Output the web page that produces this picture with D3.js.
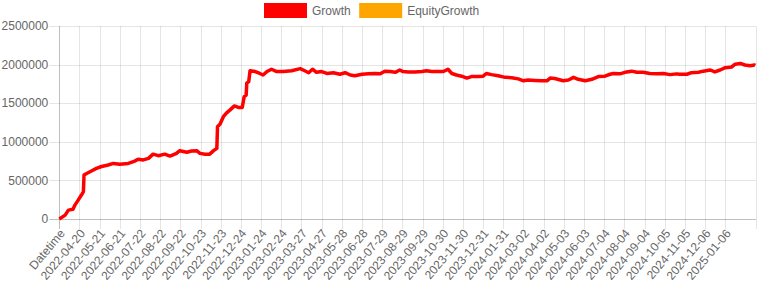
<!DOCTYPE html>
<html>
<head>
<meta charset="utf-8">
<script src="https://cdn.jsdelivr.net/npm/d3@7"></script>
<style>
  body { margin: 0; background: #fff; }
  svg { display: block; font-family: "Liberation Sans", Arial, Helvetica, sans-serif; }
</style>
</head>
<body>
<svg width="764" height="286"></svg>
<script>
// category labels shown on the x axis (every 31st day) and their category index
var tickLabels = ["Datetime", "2022-04-20", "2022-05-21", "2022-06-21", "2022-07-22", "2022-08-22",
  "2022-09-22", "2022-10-23", "2022-11-23", "2022-12-24", "2023-01-24", "2023-02-24", "2023-03-27",
  "2023-04-27", "2023-05-28", "2023-06-28", "2023-07-29", "2023-08-29", "2023-09-29", "2023-10-30",
  "2023-11-30", "2023-12-31", "2024-01-31", "2024-03-02", "2024-04-02", "2024-05-03", "2024-06-03",
  "2024-07-04", "2024-08-04", "2024-09-04", "2024-10-05", "2024-11-05", "2024-12-06", "2025-01-06"];
var tickStep = 31;
var lastIndex = 1070;

var yTicks = [0, 500000, 1000000, 1500000, 2000000, 2500000];

// Growth series (category index, value)
var growthIdx = [0, 9, 14, 21, 24, 29, 34, 37, 38, 42, 50, 57, 65, 75, 83, 93, 106, 116, 121, 129, 137,
  144, 152, 162, 170, 180, 185, 196, 203, 211, 216, 224, 231, 237, 242, 243, 247, 252, 257, 262, 269,
  275, 281, 284, 287, 288, 291, 293, 301, 308, 313, 319, 326, 334, 344, 357, 370, 377, 383, 389, 395,
  403, 411, 421, 431, 439, 447, 454, 465, 475, 485, 493, 500, 508, 516, 523, 528, 536, 546, 557, 564,
  572, 582, 590, 597, 603, 610, 618, 626, 633, 644, 651, 656, 664, 674, 685, 695, 705, 713, 720, 731,
  741, 749, 754, 761, 774, 782, 790, 797, 808, 818, 828, 838, 846, 851, 861, 869, 879, 887, 897, 907,
  918, 928, 938, 948, 953, 964, 971, 982, 989, 1000, 1007, 1015, 1023, 1033, 1038, 1046, 1053, 1061,
  1068, 1069];
var growth = [0, 50000, 115000, 125000, 180000, 245000, 310000, 355000, 570000, 590000, 625000, 655000,
  680000, 700000, 720000, 710000, 720000, 750000, 775000, 765000, 785000, 840000, 820000, 840000,
  815000, 850000, 885000, 865000, 880000, 885000, 850000, 840000, 840000, 885000, 915000, 1195000,
  1230000, 1325000, 1375000, 1410000, 1465000, 1445000, 1445000, 1585000, 1605000, 1760000, 1780000,
  1920000, 1910000, 1885000, 1865000, 1910000, 1940000, 1910000, 1910000, 1920000, 1948000, 1920000,
  1895000, 1940000, 1900000, 1910000, 1885000, 1895000, 1875000, 1895000, 1865000, 1855000, 1875000,
  1880000, 1885000, 1880000, 1915000, 1910000, 1900000, 1930000, 1910000, 1905000, 1905000, 1910000,
  1920000, 1910000, 1910000, 1910000, 1940000, 1885000, 1865000, 1850000, 1825000, 1845000, 1845000,
  1850000, 1885000, 1870000, 1855000, 1835000, 1830000, 1815000, 1790000, 1800000, 1795000, 1790000,
  1790000, 1825000, 1820000, 1790000, 1800000, 1835000, 1810000, 1790000, 1810000, 1845000, 1850000,
  1875000, 1885000, 1880000, 1900000, 1915000, 1900000, 1900000, 1885000, 1880000, 1885000, 1870000,
  1880000, 1875000, 1875000, 1895000, 1900000, 1915000, 1930000, 1905000, 1930000, 1960000, 1970000,
  2005000, 2015000, 1995000, 1985000, 1995000, 1990000];
var equityGrowth = []; // legend only, nothing drawn in the picture

var seriesNames = ["Growth", "EquityGrowth"];
var seriesColors = ["#ff0000", "#ffa500"];

var svg = d3.select('svg');
var plotLeft = 59.3, plotRight = 755.9, plotTop = 26, plotBottom = 219;

var x = d3.scaleLinear().domain([0, lastIndex]).range([plotLeft, plotRight]);
var y = d3.scaleLinear().domain([0, 2500000]).range([plotBottom, plotTop]);

var snap = function(v) { return Math.round(v) + 0.5; };

// grid
var grid = svg.append('g');
var tickIdx = tickLabels.map(function(d, i) { return i * tickStep; });
grid.selectAll('.vgrid')
  .data(tickIdx.concat([lastIndex]))
  .enter().append('line')
  .attr('x1', function(d) { return snap(x(d)); })
  .attr('x2', function(d) { return snap(x(d)); })
  .attr('y1', plotTop)
  .attr('y2', plotBottom + 10)
  .attr('stroke', function(d) { return d === 0 ? 'rgba(0,0,0,0.25)' : 'rgba(0,0,0,0.1)'; });

grid.selectAll('.hgrid')
  .data(yTicks)
  .enter().append('line')
  .attr('x1', plotLeft - 10)
  .attr('x2', plotRight)
  .attr('y1', function(d) { return snap(y(d)); })
  .attr('y2', function(d) { return snap(y(d)); })
  .attr('stroke', function(d) { return d === 0 ? 'rgba(0,0,0,0.25)' : 'rgba(0,0,0,0.1)'; });

// y labels
svg.append('g').selectAll('text')
  .data(yTicks)
  .enter().append('text')
  .attr('x', plotLeft - 11)
  .attr('y', function(d) { return y(d); })
  .attr('dy', '0.35em')
  .attr('text-anchor', 'end')
  .attr('font-size', 12)
  .attr('fill', '#666')
  .text(function(d) { return d; });

// x labels, rotated
svg.append('g').selectAll('text')
  .data(tickLabels)
  .enter().append('text')
  .attr('transform', function(d, i) { return 'translate(' + (x(i * tickStep) + 3) + ',' + (plotBottom + 12) + ') rotate(-50)'; })
  .attr('dy', '0.35em')
  .attr('text-anchor', 'end')
  .attr('font-size', 12)
  .attr('fill', '#666')
  .text(function(d) { return d; });

// Growth line
var pts = growthIdx.map(function(d, i) { return [d, growth[i]]; });
var line = d3.line()
  .x(function(d) { return x(d[0]); })
  .y(function(d) { return y(d[1]); });

svg.append('path')
  .datum(pts)
  .attr('d', line)
  .attr('fill', 'none')
  .attr('stroke', seriesColors[0])
  .attr('stroke-width', 3.5)
  .attr('stroke-linejoin', 'round');

// legend
var legend = svg.append('g');
var lx = 265.5;
seriesNames.forEach(function(name, i) {
  legend.append('rect')
    .attr('x', lx).attr('y', 4.5)
    .attr('width', 40).attr('height', 12)
    .attr('fill', seriesColors[i])
    .attr('stroke', seriesColors[i])
    .attr('stroke-width', 3);
  var t = legend.append('text')
    .attr('x', lx + 46.5).attr('y', 10.5)
    .attr('dy', '0.35em')
    .attr('font-size', 12)
    .attr('fill', '#666')
    .text(name);
  lx += 46.5 + t.node().getComputedTextLength() + 10;
});
</script>
</body>
</html>
